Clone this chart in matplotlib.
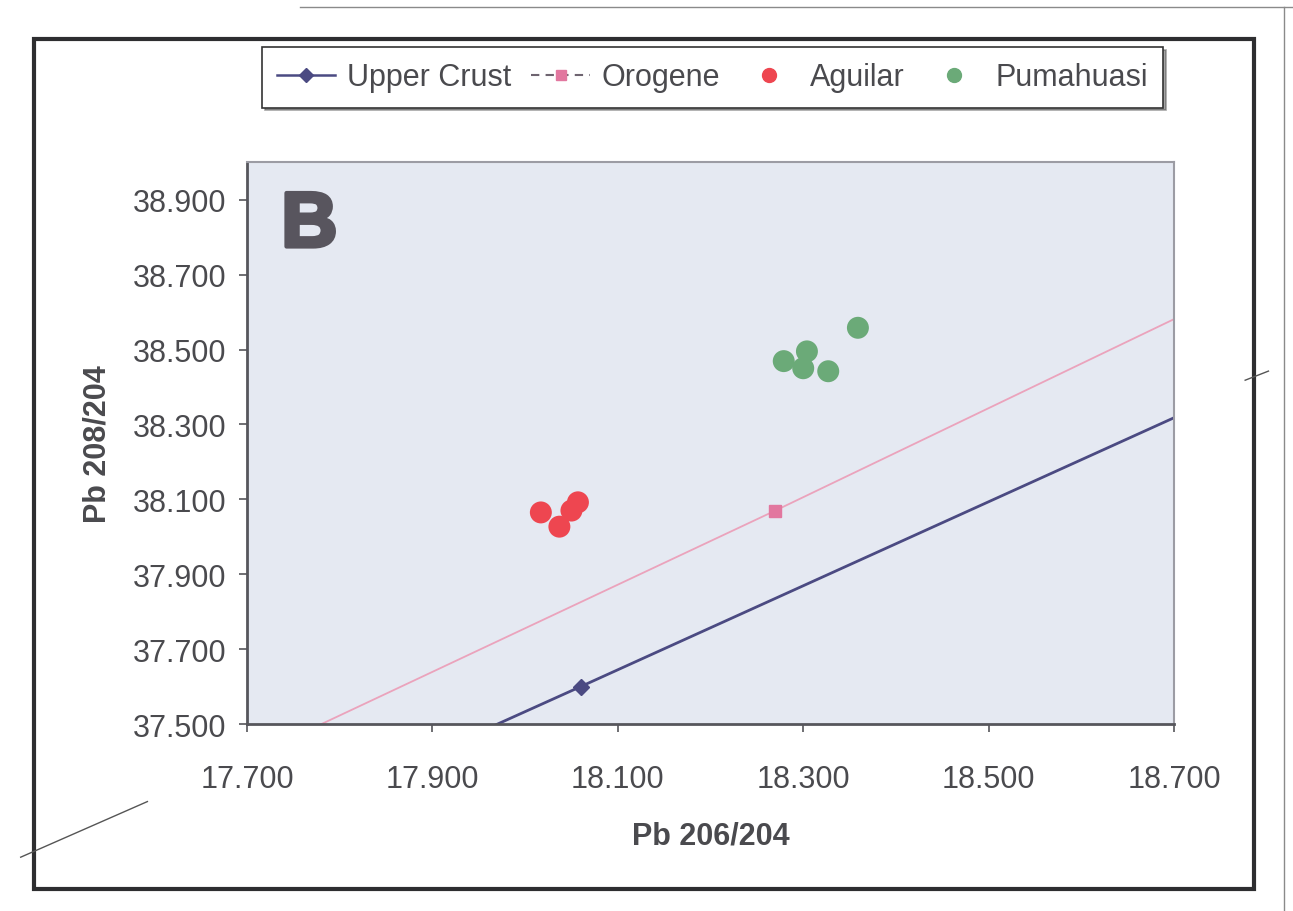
"""
Pb isotope plot (208/204 vs 206/204), panel B.
"""

import matplotlib
matplotlib.use("Agg")
import matplotlib.pyplot as plt
import matplotlib.patheffects as pe
from matplotlib.lines import Line2D
from matplotlib.patches import Rectangle

plt.rcParams['font.family'] = ['Liberation Sans', 'DejaVu Sans']

# Growth curves (points on each curve)
upper_crust_x = [17.80, 18.06, 18.80]
upper_crust_y = [37.31, 37.60, 38.43]
orogene_x = [17.60, 18.27, 18.80]
orogene_y = [37.29, 38.07, 38.70]

# Samples
aguilar_x = [18.017, 18.037, 18.050, 18.057]
aguilar_y = [38.065, 38.027, 38.070, 38.092]
pumahuasi_x = [18.359, 18.279, 18.304, 18.300, 18.327]
pumahuasi_y = [38.558, 38.469, 38.495, 38.450, 38.442]

x_ticks = [17.7, 17.9, 18.1, 18.3, 18.5, 18.7]
y_ticks = [37.5, 37.7, 37.9, 38.1, 38.3, 38.5, 38.7, 38.9]

crust_color = '#4B4A82'
orogene_color = '#EBA3BC'
orogene_mark = '#E2779F'
red = '#EE4650'
green = '#6BAA78'
text_color = '#4A4A4E'

fig = plt.figure(figsize=(12.93, 9.12), dpi=100)
fig.patch.set_facecolor('white')
ax = fig.add_axes([0.191, 0.205, 0.717, 0.616])
ax.set_facecolor('#E5E9F2')

# Curves first, so sample dots sit on top
ax.plot(upper_crust_x, upper_crust_y, color=crust_color, lw=2.0,
        marker='D', ms=8, mfc=crust_color, mec=crust_color, zorder=2)
ax.plot(orogene_x, orogene_y, color=orogene_color, lw=1.3, zorder=2)
ax.plot(orogene_x, orogene_y, ls='none', marker='s', ms=9,
        mfc=orogene_mark, mec=orogene_mark, zorder=2)

ax.scatter(aguilar_x, aguilar_y, s=250, color=red, edgecolors='none', zorder=3)
ax.scatter(pumahuasi_x, pumahuasi_y, s=250, color=green, edgecolors='none', zorder=3)

ax.set_xlim(17.7, 18.7)
ax.set_ylim(37.5, 39.0)
ax.set_xticks(x_ticks)
ax.set_yticks(y_ticks)
ax.set_xticklabels([f"{v:.3f}" for v in x_ticks])
ax.set_yticklabels([f"{v:.3f}" for v in y_ticks])
ax.tick_params(axis='x', direction='out', length=6, width=1.2, colors='#55555A',
               labelsize=22, labelcolor=text_color, pad=23)
ax.tick_params(axis='y', direction='out', length=6, width=1.2, colors='#55555A',
               labelsize=22, labelcolor=text_color, pad=9)

for side in ['left', 'bottom']:
    ax.spines[side].set_color('#56565C')
    ax.spines[side].set_linewidth(2.0)
for side in ['top', 'right']:
    ax.spines[side].set_color('#9C9CA4')
    ax.spines[side].set_linewidth(1.5)

ax.set_xlabel('Pb 206/204', fontsize=22, fontweight='bold', color=text_color)
ax.set_ylabel('Pb 208/204', fontsize=22, fontweight='bold', color=text_color)
ax.xaxis.set_label_coords(0.5, -0.171)
ax.yaxis.set_label_coords(-0.145, 0.5)

# Panel letter, thickened to look like a black-weight face
ax.text(0.037, 0.85, 'B', transform=ax.transAxes, fontsize=56,
        fontweight='bold', color='#58555E', ha='left', va='baseline',
        path_effects=[pe.withStroke(linewidth=3, foreground='#58555E')])

# Legend with smaller handles than the plotted marks
handles = [
    Line2D([], [], color=crust_color, lw=1.8, marker='D', ms=7,
           mfc=crust_color, mec=crust_color),
    Line2D([], [], color='#6E6470', lw=1.5, ls=(0, (4, 3)), marker='s', ms=7,
           mfc=orogene_mark, mec=orogene_mark),
    Line2D([], [], ls='none', marker='o', ms=10, mfc=red, mec=red),
    Line2D([], [], ls='none', marker='o', ms=10, mfc=green, mec=green),
]
labels = ['Upper Crust', 'Orogene', 'Aguilar', 'Pumahuasi']
leg = fig.legend(handles, labels, loc='center', bbox_to_anchor=(0.551, 0.914),
                 ncol=4, fontsize=22, frameon=True, fancybox=False, shadow=True,
                 edgecolor='#333333', handlelength=1.9, handletextpad=0.4,
                 columnspacing=0.65, borderpad=0.5, labelcolor=text_color)
leg.get_frame().set_linewidth(1.2)

# Outer chart frame and scan edges
fig.add_artist(Rectangle((0.026, 0.024), 0.944, 0.932, transform=fig.transFigure,
                         fill=False, edgecolor='#2E2E30', lw=3.0))
fig.add_artist(Line2D([0.232, 1.0], [0.991, 0.991], transform=fig.transFigure,
                      color='#8A8A8A', lw=1.0))
fig.add_artist(Line2D([0.993, 0.993], [0.0, 0.991], transform=fig.transFigure,
                      color='#8A8A8A', lw=1.0))
fig.add_artist(Line2D([0.016, 0.114], [0.059, 0.12], transform=fig.transFigure,
                      color='#555555', lw=1.0))
fig.add_artist(Line2D([0.963, 0.981], [0.582, 0.592], transform=fig.transFigure,
                      color='#555555', lw=1.0))

fig.savefig('out.png', dpi=100)
